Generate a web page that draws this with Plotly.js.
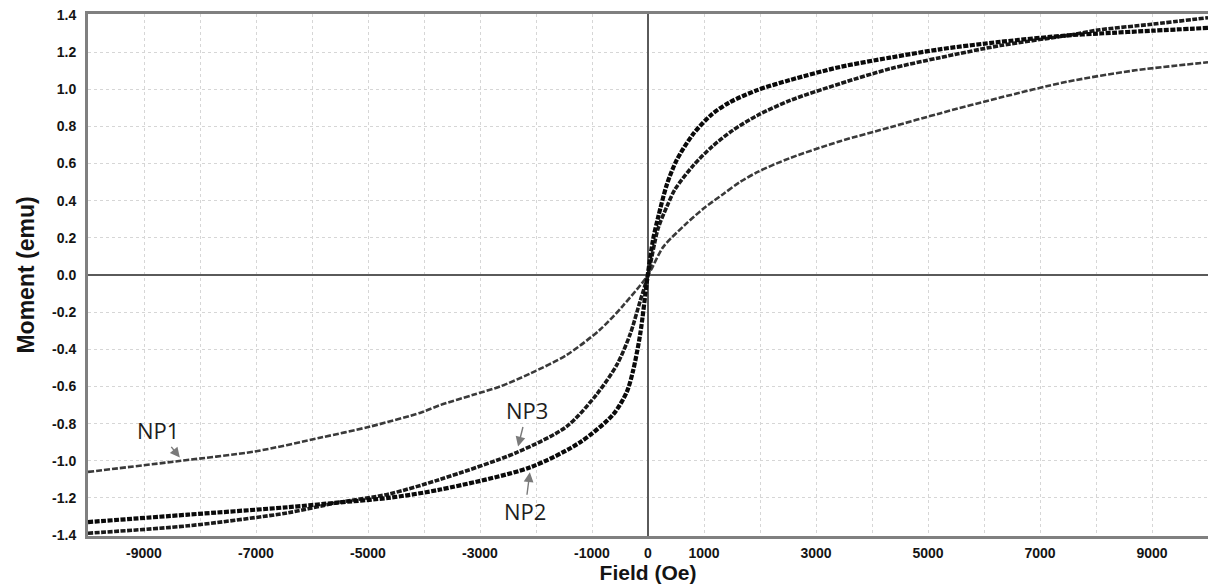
<!DOCTYPE html>
<html>
<head>
<meta charset="utf-8">
<script src="https://cdn.plot.ly/plotly-3.0.1.min.js"></script>
<style>
  html, body { margin: 0; padding: 0; background: #ffffff; }
  #chart { width: 1208px; height: 588px; }
</style>
</head>
<body>
<div id="chart"></div>
<script>
// Field (Oe) and Moment (emu) values
const np1Field = [-10000,-8340,-7020,-5840,-4950,-4050,-3710,-3120,-2640,-2100,-1450,-860,-460,0,270,660,980,1340,1640,1960,2540,3430,4320,5210,6290,7480,8660,10000];
const np1Moment = [-1.06,-1.00,-0.95,-0.875,-0.815,-0.74,-0.70,-0.645,-0.60,-0.53,-0.43,-0.295,-0.17,0.0,0.15,0.27,0.355,0.435,0.50,0.555,0.63,0.72,0.795,0.87,0.955,1.04,1.10,1.145];

const np2Field = [-10000,-8210,-6430,-5540,-4640,-3710,-2100,-1210,-620,-380,-270,-140,0,90,180,340,515,810,1140,1460,1950,2540,3430,4320,5210,6290,7500,8070,9000,10000];
const np2Moment = [-1.33,-1.29,-1.25,-1.225,-1.20,-1.155,-1.035,-0.90,-0.75,-0.63,-0.52,-0.32,0.01,0.19,0.31,0.49,0.62,0.76,0.865,0.93,0.995,1.05,1.12,1.17,1.215,1.255,1.29,1.30,1.315,1.33];

const np3Field = [-10000,-8210,-6430,-5540,-4640,-3710,-2340,-1450,-910,-550,-320,-140,0,180,340,480,810,1140,1520,1960,2540,3430,4320,5210,6290,7500,8070,9000,10000];
const np3Moment = [-1.39,-1.35,-1.28,-1.225,-1.18,-1.10,-0.955,-0.815,-0.64,-0.48,-0.32,-0.14,0.0,0.25,0.37,0.46,0.59,0.69,0.78,0.86,0.94,1.03,1.11,1.17,1.235,1.29,1.32,1.35,1.385];

const xTickVals = [-9000,-7000,-5000,-3000,-1000,0,1000,3000,5000,7000,9000];
const xTickText = ['-9000','-7000','-5000','-3000','-1000','0','1000','3000','5000','7000','9000'];
const yTickVals = [-1.4,-1.2,-1.0,-0.8,-0.6,-0.4,-0.2,0,0.2,0.4,0.6,0.8,1.0,1.2,1.4];
const yTickText = ['-1.4','-1.2','-1.0','-0.8','-0.6','-0.4','-0.2','0.0','0.2','0.4','0.6','0.8','1.0','1.2','1.4'];

const labels = [
  {name: 'NP1', x: -8360, y: -0.982, ax: -22, ay: -27},
  {name: 'NP3', x: -2320, y: -0.923, ax: 9, ay: -36},
  {name: 'NP2', x: -2110, y: -1.062, ax: -5, ay: 39}
];

const traces = [
  {x: np1Field, y: np1Moment, name: 'NP1', mode: 'lines', type: 'scatter',
   line: {color: '#3a3a3a', width: 2.6, shape: 'spline', smoothing: 0.8, dash: '6px,2px'}},
  {x: np3Field, y: np3Moment, name: 'NP3', mode: 'lines', type: 'scatter',
   line: {color: '#1a1a1a', width: 3.6, shape: 'spline', smoothing: 0.8, dash: '5px,1.5px'}},
  {x: np2Field, y: np2Moment, name: 'NP2', mode: 'lines', type: 'scatter',
   line: {color: '#0a0a0a', width: 4.2, shape: 'spline', smoothing: 0.8, dash: '5px,1.5px'}}
];

const tickFont = {family: 'Liberation Sans, Arial, sans-serif', size: 14, color: '#141414', weight: 'bold'};

const layout = {
  width: 1208, height: 588,
  margin: {l: 88, r: 0, t: 14, b: 52},
  paper_bgcolor: '#ffffff', plot_bgcolor: '#ffffff',
  showlegend: false,
  xaxis: {
    range: [-10000, 10000],
    tickvals: xTickVals, ticktext: xTickText,
    tickfont: tickFont,
    ticks: '', ticklabelstandoff: 2,
    showgrid: true, gridcolor: '#d6d6d6', griddash: 'dot', gridwidth: 1,
    minor: {dtick: 1000, tick0: 0, showgrid: true, gridcolor: '#d6d6d6', griddash: 'dot', gridwidth: 1},
    zeroline: true, zerolinecolor: '#5a5a5a', zerolinewidth: 2,
    showline: true, mirror: true, linecolor: '#808080', linewidth: 3,
    title: {text: 'Field (Oe)', font: {family: 'Liberation Sans, Arial, sans-serif', size: 21, color: '#141414', weight: 'bold'}, standoff: 0},
    automargin: false, fixedrange: true
  },
  yaxis: {
    range: [-1.405, 1.405],
    tickvals: yTickVals, ticktext: yTickText,
    tickfont: tickFont,
    ticks: '', ticklabelstandoff: 6,
    showgrid: true, gridcolor: '#d6d6d6', griddash: 'dot', gridwidth: 1,
    zeroline: true, zerolinecolor: '#5a5a5a', zerolinewidth: 2,
    showline: true, mirror: false, linecolor: '#808080', linewidth: 3,
    title: {text: 'Moment (emu)', font: {family: 'Liberation Sans, Arial, sans-serif', size: 23, color: '#141414', weight: 'bold'}, standoff: 12},
    automargin: false, fixedrange: true
  },
  annotations: labels.map(l => ({
    x: l.x, y: l.y, xref: 'x', yref: 'y',
    text: l.name, showarrow: true,
    ax: l.ax, ay: l.ay,
    arrowhead: 2, arrowsize: 1.4, arrowwidth: 1.4, arrowcolor: '#7a7a7a',
    standoff: 0,
    font: {family: 'Open Sans, Noto Sans, sans-serif', size: 22, color: '#1e1e1e'}
  }))
};

Plotly.newPlot('chart', traces, layout, {displayModeBar: false, staticPlot: true});
</script>
</body>
</html>
